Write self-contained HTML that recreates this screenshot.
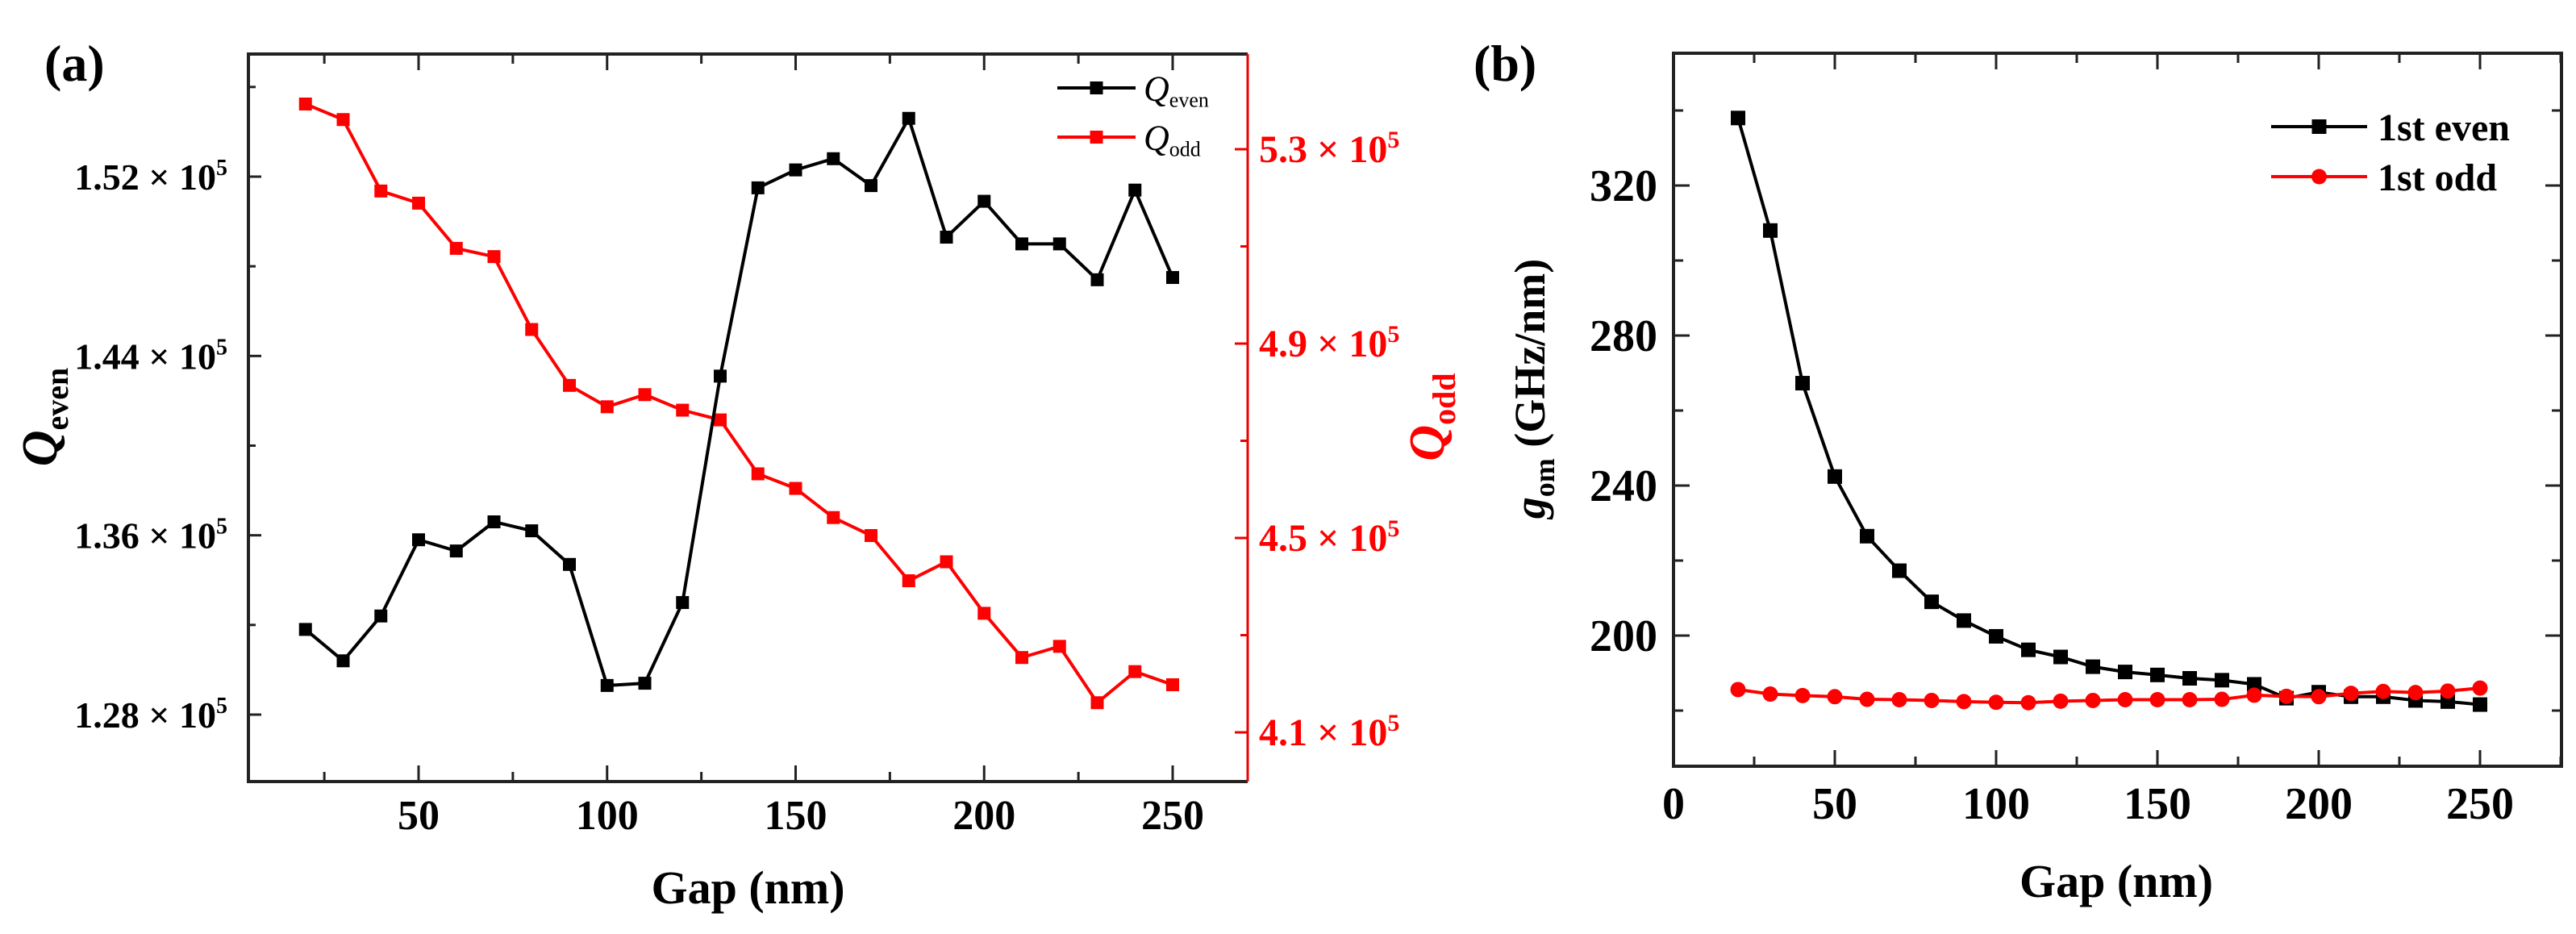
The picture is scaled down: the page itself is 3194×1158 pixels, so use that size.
<!DOCTYPE html>
<html><head><meta charset="utf-8"><style>
html,body{margin:0;padding:0;background:#fff;}
svg{display:block;font-family:"Liberation Serif",serif;font-weight:bold;}
</style></head><body>
<svg id="fig" width="3194" height="1158" viewBox="0 0 3194 1158" xmlns="http://www.w3.org/2000/svg"></svg>
<script>
// Panel (a) data
const gapsA = [20,30,40,50,60,70,80,90,100,110,120,130,140,150,160,170,180,190,200,210,220,230,240,250];
const qEven = [1.318,1.304,1.324,1.358,1.353,1.366,1.362,1.347,1.293,1.294,1.330,1.431,1.515,1.523,1.528,1.516,1.546,1.493,1.509,1.490,1.490,1.474,1.514,1.475];
const qOdd = [5.393,5.361,5.214,5.189,5.096,5.079,4.929,4.814,4.770,4.795,4.763,4.743,4.632,4.602,4.542,4.505,4.412,4.451,4.345,4.254,4.277,4.161,4.225,4.198];
const aXTicks = [50,100,150,200,250];
const aLeftTicks = [1.28,1.36,1.44,1.52];
const aLeftLabels = ["1.28","1.36","1.44","1.52"];
const aRightTicks = [4.1,4.5,4.9,5.3];
const aRightLabels = ["4.1","4.5","4.9","5.3"];
// Panel (b) data
const gapsB = [20,30,40,50,60,70,80,90,100,110,120,130,140,150,160,170,180,190,200,210,220,230,240,250];
const gomEven = [338,308,267.3,242.4,226.5,217.3,209.0,204.0,199.8,196.2,194.3,191.7,190.3,189.5,188.6,188.1,187.0,183.3,184.9,183.7,183.7,182.7,182.4,181.6];
const gomOdd = [185.6,184.4,184.0,183.7,183.0,182.9,182.7,182.4,182.2,182.1,182.5,182.7,182.9,182.9,182.9,183.0,184.1,183.8,183.7,184.6,185.1,184.8,185.2,186.0];
const bXTicks = [0,50,100,150,200,250];
const bYTicks = [200,240,280,320];

const NS="http://www.w3.org/2000/svg";
const svg=document.getElementById('fig');
function mk(tag,attrs,parent){const e=document.createElementNS(NS,tag);for(const k in attrs)e.setAttribute(k,attrs[k]);(parent||svg).appendChild(e);return e;}
function lin(d0,d1,r0,r1){return v=>r0+(v-d0)*(r1-r0)/(d1-d0);}

// ---------- Panel A ----------
const A={l:308,r:1547,t:67,b:969};
const ax=lin(50,250,519,1454);
const ayL=lin(1.28,1.52,886,219);
const ayR=lin(4.1,5.3,908,185);
const gA=mk('g',{});


let t=mk('text',{x:55,y:100,'font-size':64},gA);t.textContent='(a)';

// frame
let fr=mk('path',{d:`M${A.r},${A.t} L${A.l},${A.t} L${A.l},${A.b} L${A.r},${A.b}`,fill:'none',stroke:'#222','stroke-width':4},gA);

let ra=mk('line',{x1:A.r,y1:A.t,x2:A.r,y2:A.b,stroke:'#e00','stroke-width':3},gA);

// x ticks
for(let v=25;v<=250;v+=25){const x=ax(v);const L=(v%50===0)?20:12;
 const tk=mk('path',{d:`M${x},${A.b} v${-L} M${x},${A.t} v${L}`,stroke:'#222','stroke-width':3},gA);
 }
aXTicks.forEach(v=>{const e=mk('text',{x:ax(v),y:1028,'font-size':52,'text-anchor':'middle'},gA);e.textContent=v;
 });
// left ticks
for(let i=0;i<aLeftTicks.length;i++){const y=ayL(aLeftTicks[i]);
 const tk=mk('path',{d:`M${A.l},${y} h16`,stroke:'#222','stroke-width':3},gA);
 
 const e=mk('text',{x:A.l-26,y:y+16,'font-size':46,'text-anchor':'end'},gA);
 e.innerHTML=aLeftLabels[i]+' × 10<tspan dy="-18" font-size="28">5</tspan>';
 }
for(let v=1.24;v<=1.57;v+=0.08){const y=ayL(v);if(y<A.t||y>A.b)continue;
 const tk=mk('path',{d:`M${A.l},${y} h9`,stroke:'#222','stroke-width':3},gA);
 }
// right ticks
for(let i=0;i<aRightTicks.length;i++){const y=ayR(aRightTicks[i]);
 const tk=mk('path',{d:`M${A.r},${y} h-16`,stroke:'#e00','stroke-width':3},gA);
 
 const e=mk('text',{x:A.r+14,y:y+16,'font-size':48,fill:'#f00'},gA);
 e.innerHTML=aRightLabels[i]+' × 10<tspan dy="-18" font-size="30">5</tspan>';
 }
for(let v=4.3;v<=5.5;v+=0.4){const y=ayR(v);if(y<A.t||y>A.b)continue;
 const tk=mk('path',{d:`M${A.r},${y} h-9`,stroke:'#e00','stroke-width':3},gA);
 }
// axis titles
let xt=mk('text',{x:(A.l+A.r)/2,y:1120,'font-size':58,'text-anchor':'middle'},gA);xt.textContent='Gap (nm)';

let yl=mk('text',{transform:`translate(70,517) rotate(-90)`,'font-size':62,'text-anchor':'middle'},gA);
yl.innerHTML='<tspan font-style="italic">Q</tspan><tspan dy="14" font-size="40">even</tspan>';

let yr=mk('text',{transform:`translate(1790,517) rotate(-90)`,'font-size':62,'text-anchor':'middle',fill:'#f00'},gA);
yr.innerHTML='<tspan font-style="italic">Q</tspan><tspan dy="14" font-size="40">odd</tspan>';

// series
function series(g,xs,ys,fx,fy,color,marker,size,name){
 const pts=xs.map((x,i)=>[fx(x),fy(ys[i])]);
 const pl=mk('polyline',{points:pts.map(p=>p.join(',')).join(' '),fill:'none',stroke:color,'stroke-width':4,'stroke-linejoin':'round'},g);
 
 pts.forEach(p=>{let m;
  if(marker==='sq')m=mk('rect',{x:p[0]-size/2,y:p[1]-size/2,width:size,height:size,fill:color},g);
  else m=mk('circle',{cx:p[0],cy:p[1],r:size/2,fill:color},g);
  });
}
series(gA,gapsA,qOdd,ax,ayR,'#f00','sq',16,'q-odd');
series(gA,gapsA,qEven,ax,ayL,'#000','sq',16,'q-even');
// legend a
function legEntry(g,x1,x2,y,color,marker,size,label,tx,fs,name){
 const lg=mk('g',{},g);
 mk('line',{x1:x1,y1:y,x2:x2,y2:y,stroke:color,'stroke-width':4},lg);
 const cx=(x1+x2)/2;
 if(marker==='sq')mk('rect',{x:cx-size/2,y:y-size/2,width:size,height:size,fill:color},lg);
 else mk('circle',{cx:cx,cy:y,r:size/2,fill:color},lg);
 const e=mk('text',{x:tx,y:y+fs*0.35,'font-size':fs},lg);e.innerHTML=label;
}
legEntry(gA,1311,1408,109,'#000','sq',16,'<tspan font-style="italic" font-weight="normal">Q</tspan><tspan dy="8" font-size="26" font-weight="normal">even</tspan>',1418,44,'legend-q-even');
legEntry(gA,1311,1408,170,'#f00','sq',16,'<tspan font-style="italic" font-weight="normal">Q</tspan><tspan dy="8" font-size="26" font-weight="normal">odd</tspan>',1418,44,'legend-q-odd');

// ---------- Panel B ----------
const B={l:2075,r:3176,t:66,b:950};
const bx=lin(0,250,2075,3075);
const by=lin(200,320,788,230);
const gB=mk('g',{});


t=mk('text',{x:1827,y:100,'font-size':64},gB);t.textContent='(b)';

fr=mk('rect',{x:B.l,y:B.t,width:B.r-B.l,height:B.b-B.t,fill:'none',stroke:'#222','stroke-width':4},gB);

for(let v=25;v<=275;v+=25){const x=bx(v);const L=(v%50===0)?20:12;
 const tk=mk('path',{d:`M${x},${B.b} v${-L} M${x},${B.t} v${L}`,stroke:'#222','stroke-width':3},gB);
 }
bXTicks.forEach(v=>{const e=mk('text',{x:bx(v),y:1015,'font-size':56,'text-anchor':'middle'},gB);e.textContent=v;
 });
for(let v=180;v<=340;v+=20){const y=by(v);const L=(v%40===0)?20:12;
 const tk=mk('path',{d:`M${B.l},${y} h${L} M${B.r},${y} h${-L}`,stroke:'#222','stroke-width':3},gB);
 }
bYTicks.forEach(v=>{const e=mk('text',{x:B.l-20,y:by(v)+19,'font-size':56,'text-anchor':'end'},gB);e.textContent=v;
 });
xt=mk('text',{x:2624,y:1112,'font-size':58,'text-anchor':'middle'},gB);xt.textContent='Gap (nm)';

yl=mk('text',{transform:`translate(1915,482) rotate(-90)`,'font-size':54,'text-anchor':'middle'},gB);
yl.innerHTML='<tspan font-style="italic">g</tspan><tspan dy="12" font-size="36">om</tspan><tspan dy="-12"> (GHz/nm)</tspan>';

series(gB,gapsB,gomEven,bx,by,'#000','sq',18,'gom-even');
series(gB,gapsB,gomOdd,bx,by,'#f00','ci',19,'gom-odd');
legEntry(gB,2816,2935,157,'#000','sq',18,'1st even',2948,48,'legend-1st-even');
legEntry(gB,2816,2935,219,'#f00','ci',19,'1st odd',2948,48,'legend-1st-odd');
</script>
</body></html>
